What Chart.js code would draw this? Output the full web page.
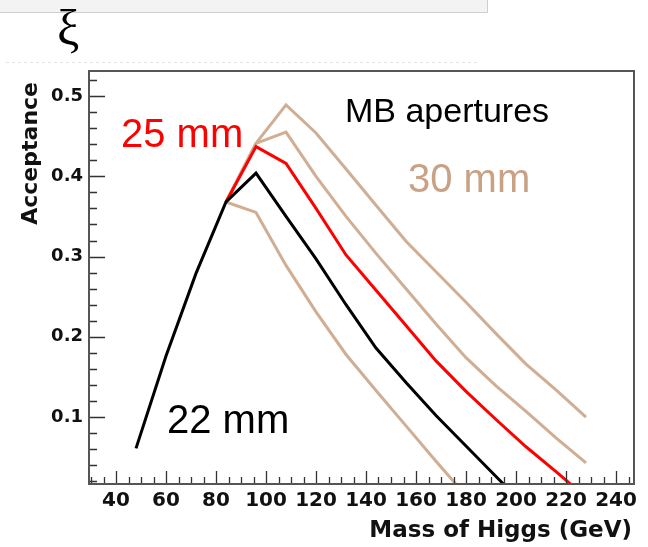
<!DOCTYPE html>
<html>
<head>
<meta charset="utf-8">
<title>Acceptance vs Mass of Higgs</title>
<script src="https://cdn.jsdelivr.net/npm/chart.js@4.4.1/dist/chart.umd.min.js"></script>
<style>
  html, body { margin: 0; padding: 0; background: #fff; }
  canvas { display: block; }
</style>
</head>
<body>
<canvas id="chartCanvas" width="648" height="547"></canvas>
<script>
// Higgs masses where the acceptance was computed (GeV)
const masses = [48, 60, 72, 84, 96, 108, 120, 132, 144, 156, 168, 180, 192, 204, 216, 228];

// acceptance for each MB aperture (null = no point)
const acc22mm = [0.061, 0.176, 0.279, 0.368, 0.404, 0.350, 0.297, 0.240, 0.186, 0.143, 0.102, 0.064, 0.026, -0.012, null, null];
const acc25mm = [null, null, null, 0.368, 0.437, 0.416, 0.360, 0.302, 0.258, 0.214, 0.170, 0.132, 0.097, 0.063, 0.032, 0.000];
const acc30mmHigh = [null, null, null, 0.368, 0.441, 0.489, 0.454, 0.409, 0.364, 0.319, 0.281, 0.243, 0.204, 0.166, 0.134, 0.100];
const acc30mmMid = [null, null, null, 0.368, 0.441, 0.455, 0.400, 0.350, 0.304, 0.260, 0.216, 0.174, 0.139, 0.107, 0.074, 0.043];
const acc30mmLow = [null, null, null, 0.368, 0.355, 0.289, 0.231, 0.178, 0.133, 0.089, 0.045, 0.002, null, null, null, null];

const xTickValues = [40, 60, 80, 100, 120, 140, 160, 180, 200, 220, 240];
const yTickValues = [0.1, 0.2, 0.3, 0.4, 0.5];

const BROWN = '#d0ae94';
const BROWN_TEXT = '#c9a286';

function toPoints(values) {
    return masses
        .map((m, i) => ({ x: m, y: values[i] }))
        .filter(p => p.y !== null);
}

function makeSet(label, values, color) {
    return {
        label: label,
        data: toPoints(values),
        borderColor: color,
        borderWidth: 3,
        pointRadius: 0,
        tension: 0,
        fill: false
    };
}

// frame, inward ticks, axis titles and the text labels (ROOT look)
const decorPlugin = {
    id: 'decor',
    beforeDraw(chart) {
        const ctx = chart.ctx;
        ctx.save();
        ctx.fillStyle = '#fff';
        ctx.fillRect(0, 0, chart.width, chart.height);

        // grey strip at the very top
        ctx.fillStyle = '#f3f3f3';
        ctx.fillRect(0, 0, 487, 12);
        ctx.strokeStyle = '#cfcfcf';
        ctx.lineWidth = 1;
        ctx.beginPath();
        ctx.moveTo(0, 12.5);
        ctx.lineTo(487.5, 12.5);
        ctx.lineTo(487.5, 0);
        ctx.stroke();

        // faint dotted rule under the symbol
        ctx.strokeStyle = '#e4e4e4';
        ctx.setLineDash([3, 3]);
        ctx.beginPath();
        ctx.moveTo(6, 62.5);
        ctx.lineTo(478, 62.5);
        ctx.stroke();
        ctx.setLineDash([]);

        ctx.fillStyle = '#000';
        ctx.font = '50px "Liberation Serif"';
        ctx.textAlign = 'left';
        ctx.textBaseline = 'alphabetic';
        ctx.fillText('ξ', 57, 45);
        ctx.restore();
    },
    afterDraw(chart) {
        const ctx = chart.ctx;
        const area = chart.chartArea;
        const xs = chart.scales.x;
        const ys = chart.scales.y;
        ctx.save();

        // ticks
        ctx.strokeStyle = '#333';
        ctx.lineWidth = 1.3;
        ctx.beginPath();
        for (let v = 30; v <= 245; v += 5) {
            const px = Math.round(xs.getPixelForValue(v)) + 0.5;
            const len = v % 20 === 0 ? 13 : 7;
            ctx.moveTo(px, area.bottom);
            ctx.lineTo(px, area.bottom - len);
        }
        for (let i = 1; i <= 26; i++) {
            const py = Math.round(ys.getPixelForValue(i * 0.02)) + 0.5;
            const len = i % 5 === 0 ? 16 : 8;
            ctx.moveTo(area.left, py);
            ctx.lineTo(area.left + len, py);
        }
        ctx.stroke();

        // frame
        ctx.strokeStyle = '#555';
        ctx.lineWidth = 2;
        ctx.strokeRect(area.left, area.top, area.right - area.left, area.bottom - area.top);

        // axis titles
        ctx.fillStyle = '#111';
        ctx.font = 'bold 23px "DejaVu Sans"';
        ctx.textAlign = 'right';
        ctx.textBaseline = 'alphabetic';
        ctx.fillText('Mass of Higgs (GeV)', 632, 537);

        ctx.save();
        ctx.translate(37, 82);
        ctx.rotate(-Math.PI / 2);
        ctx.font = 'bold 22px "DejaVu Sans"';
        ctx.textAlign = 'right';
        ctx.fillText('Acceptance', 0, 0);
        ctx.restore();

        // annotations
        ctx.textAlign = 'left';
        ctx.font = '34px "Liberation Sans"';
        ctx.fillStyle = '#000';
        ctx.fillText('MB apertures', 345, 122);

        ctx.font = '40px "Liberation Sans"';
        ctx.fillStyle = '#ff0000';
        ctx.fillText('25 mm', 121, 147);
        ctx.fillStyle = BROWN_TEXT;
        ctx.fillText('30 mm', 408, 192);
        ctx.fillStyle = '#000';
        ctx.fillText('22 mm', 167, 433);

        ctx.restore();
    }
};

const ctx = document.getElementById('chartCanvas').getContext('2d');

const chart = new Chart(ctx, {
    type: 'line',
    data: {
        datasets: [
            makeSet('22 mm', acc22mm, '#000000'),
            makeSet('25 mm', acc25mm, '#ff0000'),
            makeSet('30 mm (high)', acc30mmHigh, BROWN),
            makeSet('30 mm (mid)', acc30mmMid, BROWN),
            makeSet('30 mm (low)', acc30mmLow, BROWN)
        ]
    },
    options: {
        responsive: false,
        animation: false,
        devicePixelRatio: 1,
        layout: { padding: { left: 0, right: 14, top: 71, bottom: 0 } },
        plugins: {
            legend: { display: false },
            tooltip: { enabled: false }
        },
        scales: {
            x: {
                type: 'linear',
                min: 29.2,
                max: 247.2,
                grid: { display: false, drawTicks: false },
                border: { display: false },
                afterBuildTicks: (scale) => {
                    scale.ticks = xTickValues.map(v => ({ value: v }));
                },
                afterFit: (scale) => { scale.height = 63; },
                ticks: {
                    autoSkip: false,
                    maxRotation: 0,
                    padding: 5,
                    color: '#111',
                    font: { family: 'DejaVu Sans', weight: 'bold', size: 20 },
                    callback: (v) => String(v)
                }
            },
            y: {
                type: 'linear',
                min: 0.0166,
                max: 0.5312,
                grid: { display: false, drawTicks: false },
                border: { display: false },
                afterBuildTicks: (scale) => {
                    scale.ticks = yTickValues.map(v => ({ value: v }));
                },
                afterFit: (scale) => { scale.width = 89; },
                ticks: {
                    autoSkip: false,
                    padding: 6,
                    color: '#111',
                    font: { family: 'DejaVu Sans', weight: 'bold', size: 18 },
                    callback: (v) => v.toFixed(1)
                }
            }
        }
    },
    plugins: [decorPlugin]
});
</script>
</body>
</html>
